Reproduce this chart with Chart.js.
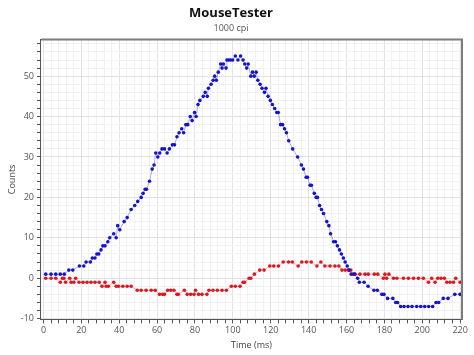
<!DOCTYPE html>
<html><head><meta charset="utf-8">
<script src="https://cdn.jsdelivr.net/npm/chart.js@4.4.0/dist/chart.umd.min.js"></script>
<style>html,body{margin:0;padding:0;background:#fff;}</style>
</head><body>
<canvas id="c" width="474" height="355"></canvas>
<script>
// ---- data ----
const blueTimes = [1.2,4,6.5,8.9,11,13.4,15.5,19,21.3,22.5,24.8,25.8,27.2,28.2,29.2,30.4,31.4,32.5,34,35,37.1,38.4,39.2,40.3,42.6,44.2,46.3,48.2,49.8,51.6,52.6,53.7,54.4,56,57.4,58.4,59.3,60.4,61.4,62.6,63.9,65.3,66.5,68.1,69.2,70.5,71.6,73,74,75.2,76.2,77.5,78.5,79.8,80.6,81.6,82.6,84.4,85.4,86.5,87.1,88.5,89.6,90.4,91.3,92.3,93.6,94.3,95,96.4,96.9,97.8,98.8,99.9,101.3,102.7,104.1,105.4,106.3,107.3,108.1,109.5,110.4,111.3,112.3,113.2,114.4,115.4,116.7,117.5,118.6,119.8,120.9,122.1,123.2,124,125.2,126.3,127.3,128.3,129.5,131.6,134.2,136.2,137.3,138.7,139.4,140.8,141.5,143,144,144.7,145.8,146.8,147.9,149.6,150.7,151.6,153.2,154.2,155.2,156.3,157.3,158.4,159.3,160.4,161.4,162.5,164.2,165.9,166.8,169.3,171.4,174.5,176.3,178.7,179.8,181.7,184.5,186,187,188.6,190.4,192.5,194.6,197.1,199.2,201.3,203.4,205.5,207.3,208.7,211.1,213.6,217.2,220];
const blueCounts = [1,1,1,1,1,2,2,3,3,4,4,5,5,6,6,7,8,8,9,10,11,10,13,12,14,15,17,18,19,20,21,22,22,24,27,28,31,30,31,32,32,31,32,33,33,35,36,37,36,38,38,40,39,41,40,43,44,45,46,45,47,48,49,50,49,51,53,52,53,52,54,54,54,54,55,54,55,54,53,52,53,50,51,50,51,49,48,47,46,47,45,44,43,42,41,41,38,38,37,36,34,32,30,28,27,25,25,23,23,21,20,20,18,17,16,14,13,11,9,9,8,7,6,5,4,3,2,1,1,0,-1,-1,-2,-3,-3,-4,-4,-5,-5,-6,-6,-7,-7,-7,-7,-7,-7,-7,-7,-7,-6,-6,-5,-5,-4,-4];
const redTimes = [1.2,4,6.5,8.9,10,10.8,11.7,13.9,14.6,16,17,18.8,20.9,23,25.1,27.2,29.4,30.9,32.5,33.1,34.3,37.1,38.4,39.6,41.9,44.2,46.3,49.5,51.6,54.2,56.9,59,61.3,62.9,63.9,65.6,67.2,68.9,70.5,71.2,74.4,75.9,77.7,79.5,80.3,81.9,83.7,86.3,87.4,89.5,91.8,94.3,96.6,99.2,101.3,103.8,105.4,106.2,108.6,109.5,111.4,114.2,116.5,119.5,121.6,124.1,126.6,129.4,131.4,134.5,136.4,138.9,141.4,144.4,146.5,148.6,151.3,153.9,156,157.6,159.3,160.9,162.3,163.6,164.6,167.1,169.8,171.5,174.7,176.5,179.5,180.3,181.2,182.4,184.8,186.6,190.1,192.7,195.4,198,200.6,203.3,205,206.8,208.2,209.9,211.7,213,214.7,216.5,217.7,220];
const redCounts = [0,0,0,-1,0,0,-1,0,-1,-1,0,-1,-1,-1,-1,-1,-1,-2,-1,-2,-2,-1,-2,-2,-2,-2,-2,-3,-3,-3,-3,-3,-4,-4,-4,-3,-3,-3,-4,-4,-3,-4,-4,-4,-3,-4,-4,-4,-3,-3,-3,-3,-3,-2,-2,-2,-1,-1,0,0,1,2,2,3,3,3,4,4,4,3,4,4,4,3,4,3,3,3,3,2,2,2,2,1,1,1,1,1,1,1,0,1,0,1,0,0,0,0,0,0,0,-1,0,-1,0,0,0,-1,-1,-1,0,-1];
const xLabels = [0,20,40,60,80,100,120,140,160,180,200,220];
const yLabels = [-10,0,10,20,30,40,50];
const xMinorStep = 4;
const yMinorStep = 2;

const toPts = (t, c) => t.map((v, i) => ({x: v, y: c[i]}));
const xMinor = []; for (let v = 0; v <= 220; v += xMinorStep) xMinor.push(v);
const yMinor = []; for (let v = -10; v <= 58; v += yMinorStep) yMinor.push(v);

const FONT = "'Open Sans', 'Noto Sans', sans-serif";
Chart.defaults.font.family = FONT;

const framePlugin = {
  id: 'frame',
  afterDraw(chart) {
    const {ctx, chartArea: a} = chart;
    ctx.save();
    ctx.strokeStyle = '#7d7d7d';
    ctx.lineWidth = 2;
    ctx.beginPath();
    ctx.moveTo(a.left, a.top);
    ctx.lineTo(a.right, a.top);
    ctx.lineTo(a.right, a.bottom);
    ctx.stroke();
    ctx.restore();
  }
};

new Chart(document.getElementById('c'), {
  type: 'scatter',
  data: {
    datasets: [
      {label: 'x', data: toPts(blueTimes, blueCounts), showLine: true,
       borderColor: 'rgba(110,110,255,0.6)', borderWidth: 1,
       pointRadius: 1.8, pointBackgroundColor: '#1414c8', pointBorderWidth: 0},
      {label: 'y', data: toPts(redTimes, redCounts), showLine: true,
       borderColor: 'rgba(255,110,110,0.6)', borderWidth: 1,
       pointRadius: 1.8, pointBackgroundColor: '#e0161e', pointBorderWidth: 0}
    ]
  },
  options: {
    responsive: false, animation: false, devicePixelRatio: 1,
    layout: {padding: {left: 0, right: 12, top: 0, bottom: 4}},
    plugins: {
      legend: {display: false}, tooltip: {enabled: false},
      title: {display: true, text: 'MouseTester', color: '#111',
        font: {family: FONT, size: 13, weight: 'bold'}, padding: {top: 5, bottom: 2}},
      subtitle: {display: true, text: '1000 cpi', color: '#555',
        font: {family: FONT, size: 9}, padding: {top: 0, bottom: 6}}
    },
    scales: {
      x: {
        type: 'linear', min: -1.3, max: 221,
        afterBuildTicks: s => { s.ticks = xMinor.map(v => ({value: v})); },
        ticks: {autoSkip: false, maxRotation: 0, minRotation: 0, padding: 2, color: '#555',
          font: {size: 9}, callback: v => xLabels.includes(v) ? String(v) : ''},
        grid: {color: c => (c.tick && xLabels.includes(c.tick.value)) ? '#e2e2e2' : '#f1f1f1',
          tickColor: '#555', tickLength: 4},
        border: {color: '#555'},
        title: {display: true, text: 'Time (ms)', color: '#444', font: {size: 9}, padding: {top: 2, bottom: 0}}
      },
      y: {
        type: 'linear', min: -10.2, max: 59.1,
        afterBuildTicks: s => { s.ticks = yMinor.map(v => ({value: v})); },
        ticks: {autoSkip: false, padding: 3, color: '#555',
          font: {size: 9}, callback: v => yLabels.includes(v) ? String(v) : ''},
        grid: {color: c => (c.tick && yLabels.includes(c.tick.value)) ? '#e2e2e2' : '#f1f1f1',
          tickColor: '#555', tickLength: 4},
        border: {color: '#555'},
        title: {display: true, text: 'Counts', color: '#444', font: {size: 9}, padding: {top: 7, bottom: 0}}
      }
    }
  },
  plugins: [framePlugin]
});
</script>
</body></html>
